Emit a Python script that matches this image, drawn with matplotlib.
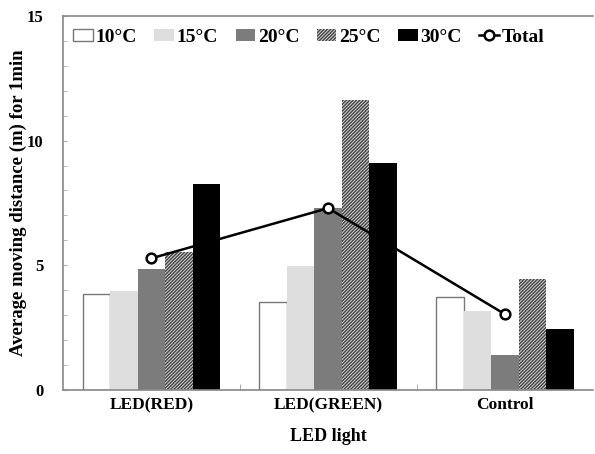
import numpy as np
import matplotlib.pyplot as plt
from matplotlib.ticker import MultipleLocator, FixedLocator

categories = ['LED(RED)', 'LED(GREEN)', 'Control']
temps = ['10\u00b0C', '15\u00b0C', '20\u00b0C', '25\u00b0C', '30\u00b0C']
t10 = [3.85, 3.52, 3.74]
t15 = [3.98, 4.97, 3.18]
t20 = [4.87, 7.29, 1.39]
t25 = [5.55, 11.63, 4.44]
t30 = [8.24, 9.09, 2.46]
total = [5.28, 7.29, 3.04]

plt.rcParams['font.family'] = ['Liberation Serif', 'DejaVu Serif']
plt.rcParams['font.weight'] = 'bold'
plt.rcParams['hatch.linewidth'] = 1.0

fig = plt.figure(figsize=(5.95, 4.54), dpi=100)
ax = fig.add_axes([0.106, 0.141, 0.891, 0.824])

x = np.arange(len(categories))
w = 0.156
series = [t10, t15, t20, t25, t30]
styles = [
	dict(color='white', edgecolor='#777777', linewidth=1.0),
	dict(color='#dedede', linewidth=0),
	dict(color='#7c7c7c', linewidth=0),
	dict(color='#d8d8d8', edgecolor='#404040', hatch='//////////', linewidth=0),
	dict(color='black', linewidth=0),
]
handles = []
for i, (vals, st) in enumerate(zip(series, styles)):
	h = ax.bar(x + (i - 2) * w, vals, w, label=temps[i], zorder=2, **st)
	handles.append(h)

line, = ax.plot(x, total, color='black', linewidth=1.8, marker='o', markersize=7,
				markerfacecolor='white', markeredgecolor='black', markeredgewidth=1.8,
				label='Total', zorder=3)
handles.append(line)

ax.set_xlim(-0.5, 2.5)
ax.set_ylim(0, 15)
ax.set_xticks(x)
ax.set_xticklabels(categories, fontsize=12.5, fontweight='bold')
ax.xaxis.set_minor_locator(FixedLocator([0.5, 1.5]))
ax.tick_params(axis='x', which='major', length=0, pad=5)
ax.tick_params(axis='x', which='minor', direction='in', length=4, color='#999999')

ax.yaxis.set_major_locator(MultipleLocator(5))
ax.yaxis.set_minor_locator(MultipleLocator(1))
ax.tick_params(axis='y', which='both', direction='in', length=3, color='#aaaaaa', labelsize=12, pad=14)
for lab in ax.get_yticklabels():
	lab.set_fontweight('bold')

ax.set_xlabel('LED light', fontsize=13, fontweight='bold', labelpad=11)
ax.set_ylabel('Average moving distance (m) for 1min', fontsize=13.5, fontweight='bold', labelpad=0)

for s in ['left', 'top', 'bottom']:
	ax.spines[s].set_color('#888888')
	ax.spines[s].set_linewidth(1.2)
ax.spines['right'].set_visible(False)

ax.legend(handles=handles, loc='upper left', bbox_to_anchor=(-0.005, 1.0), ncol=6, frameon=False,
		  prop={'size': 14, 'weight': 'bold'}, handlelength=1.0, handleheight=0.6,
		  handletextpad=0.15, columnspacing=0.9, borderaxespad=0.25)

fig.savefig('out.png', dpi=100)
